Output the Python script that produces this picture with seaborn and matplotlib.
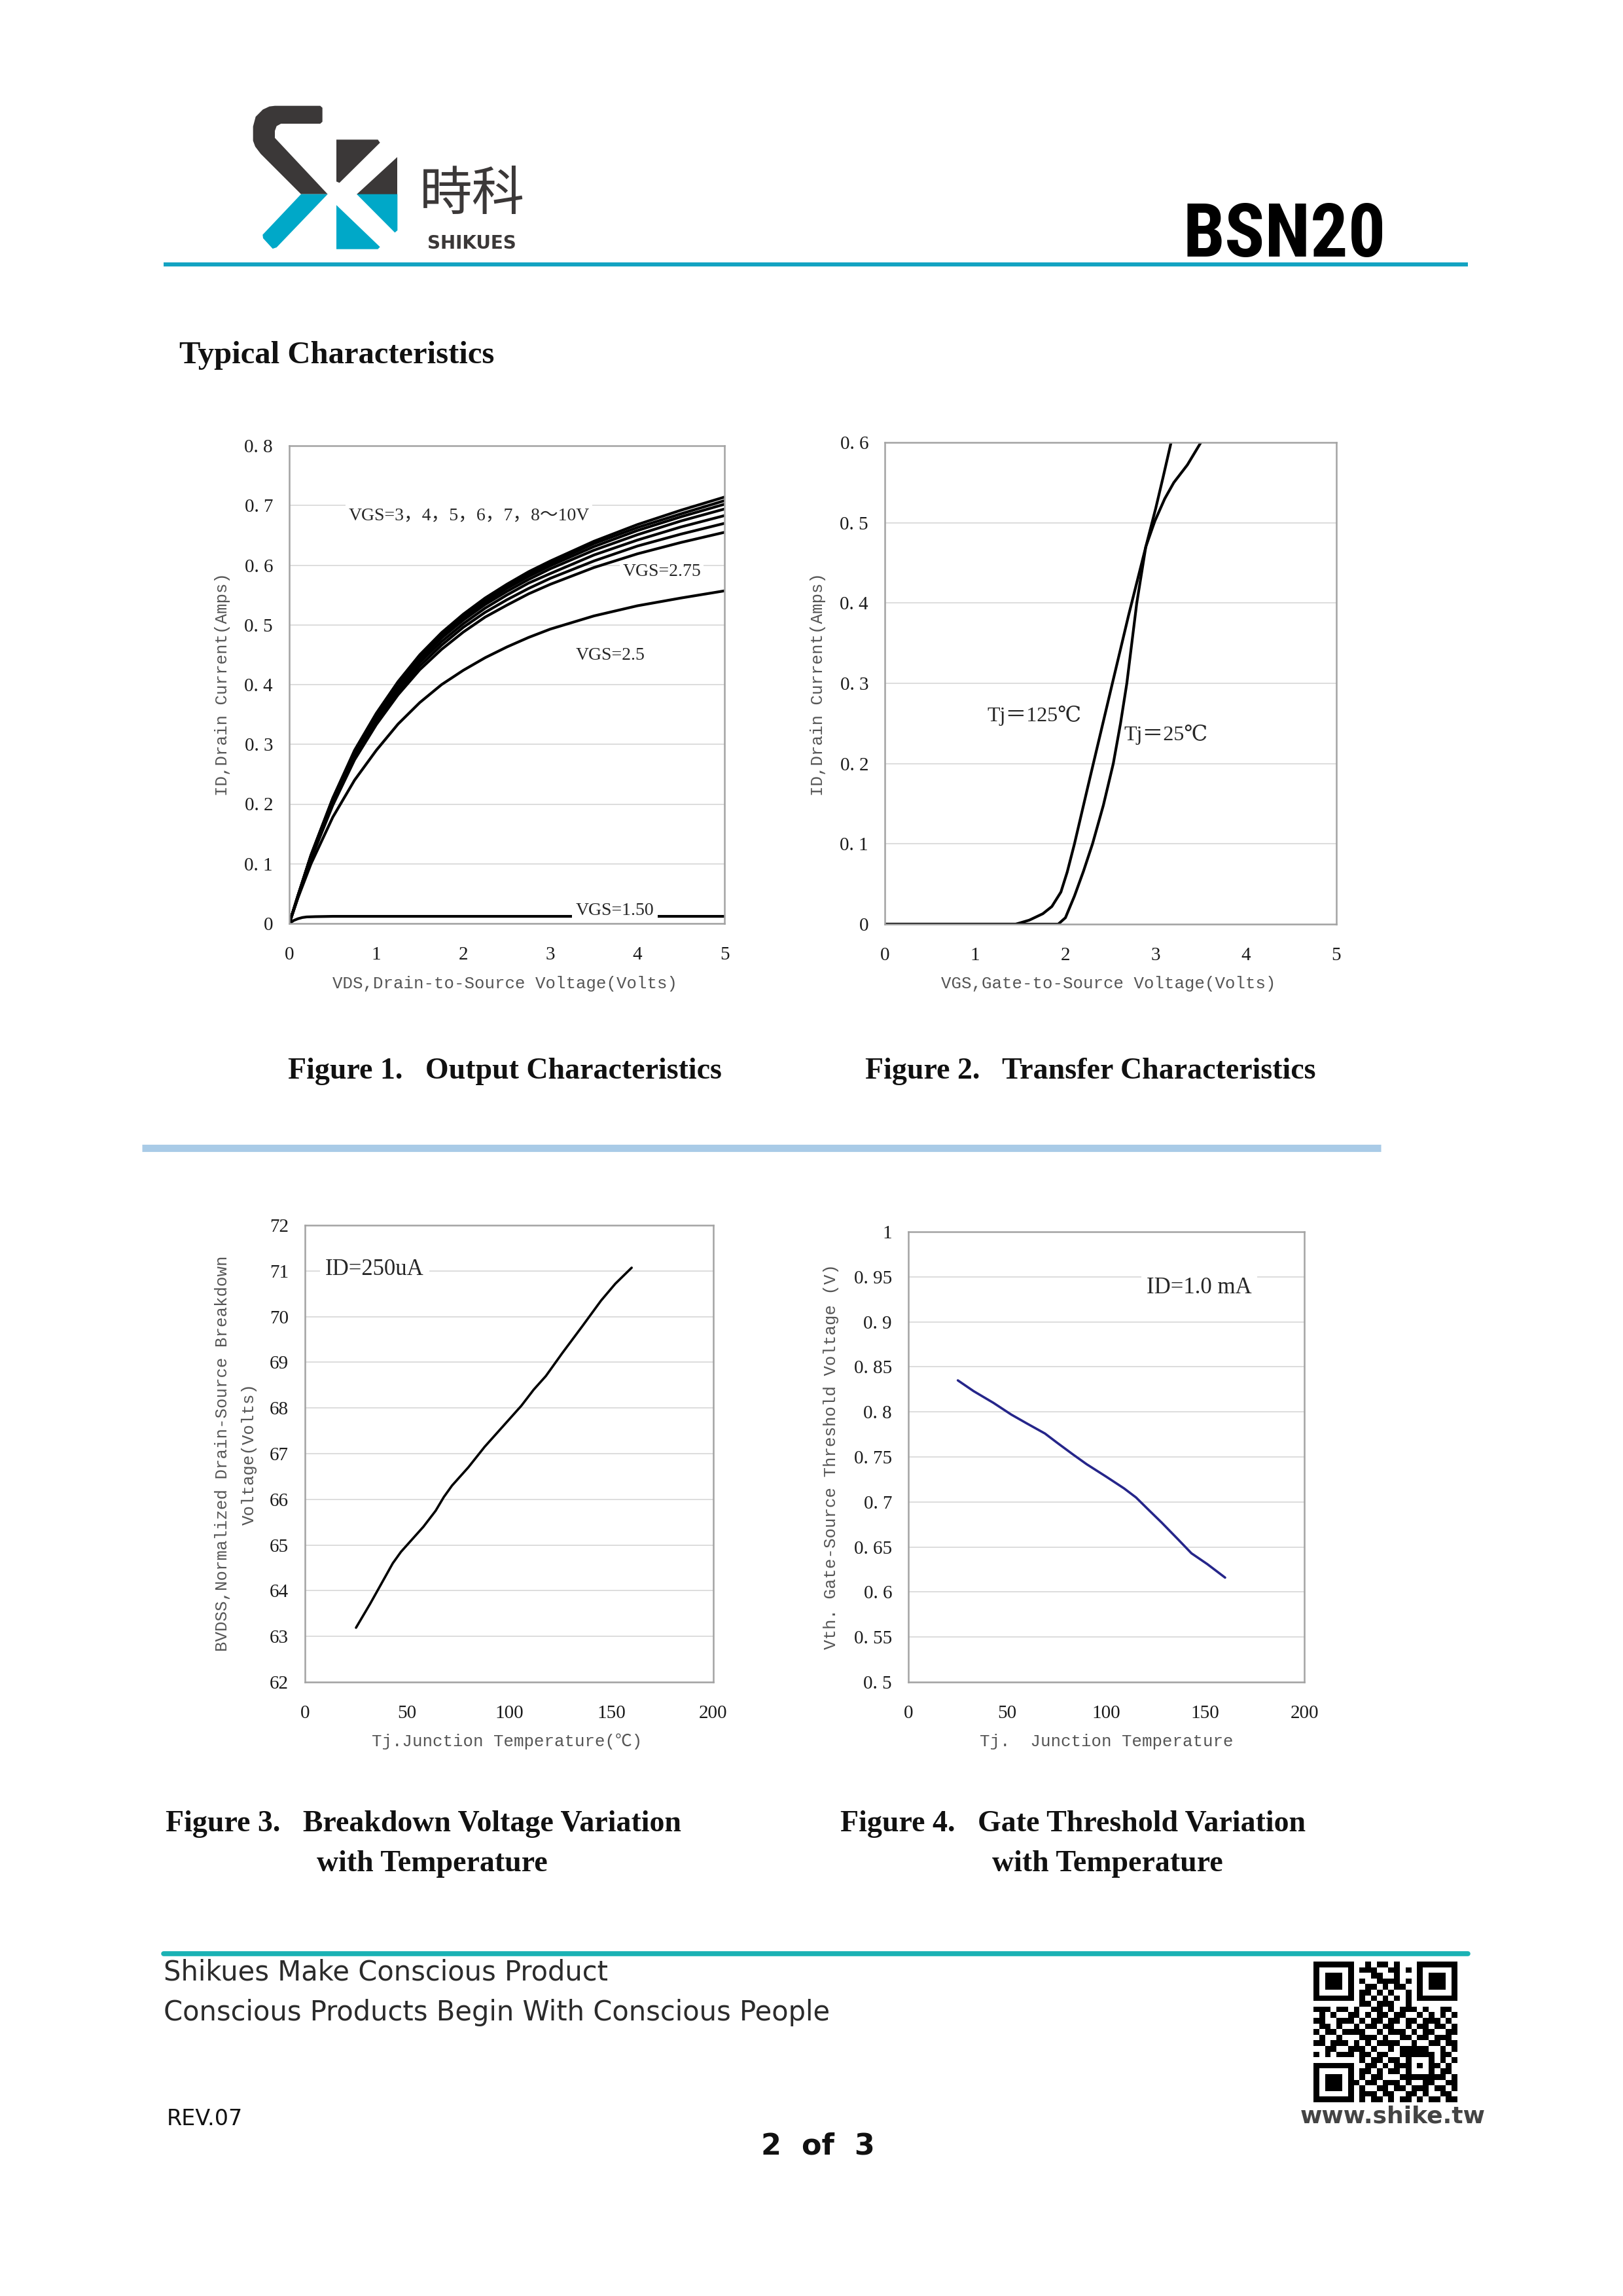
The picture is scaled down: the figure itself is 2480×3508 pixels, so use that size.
import numpy as np
import pandas as pd
import matplotlib
matplotlib.use("Agg")
import matplotlib.pyplot as plt
import seaborn as sns
from matplotlib.patches import Polygon
from matplotlib.lines import Line2D

# ---------------- data ----------------
# Figure 1 - output characteristics
vds = [0, 0.1, 0.25, 0.5, 0.75, 1.0, 1.25, 1.5, 1.75, 2.0, 2.25, 2.5, 2.75, 3.0, 3.5, 4.0, 4.5, 5.0]
id_vgs_8_10 = [0, 0.047, 0.115, 0.210, 0.290, 0.352, 0.405, 0.450, 0.487, 0.518, 0.545, 0.568, 0.589, 0.607, 0.640, 0.668, 0.692, 0.714]
id_vgs_7 = [0, 0.047, 0.114, 0.209, 0.288, 0.350, 0.403, 0.447, 0.484, 0.515, 0.542, 0.564, 0.585, 0.603, 0.636, 0.663, 0.686, 0.708]
id_vgs_6 = [0, 0.046, 0.114, 0.208, 0.287, 0.348, 0.400, 0.445, 0.481, 0.512, 0.538, 0.561, 0.581, 0.599, 0.631, 0.658, 0.681, 0.702]
id_vgs_5 = [0, 0.046, 0.113, 0.206, 0.285, 0.345, 0.397, 0.441, 0.478, 0.508, 0.534, 0.556, 0.576, 0.594, 0.625, 0.651, 0.674, 0.694]
id_vgs_4 = [0, 0.045, 0.111, 0.204, 0.282, 0.342, 0.393, 0.437, 0.472, 0.502, 0.528, 0.550, 0.570, 0.586, 0.617, 0.642, 0.664, 0.683]
id_vgs_3 = [0, 0.045, 0.110, 0.201, 0.278, 0.338, 0.388, 0.431, 0.466, 0.496, 0.521, 0.542, 0.561, 0.578, 0.607, 0.632, 0.652, 0.670]
id_vgs_275 = [0, 0.044, 0.108, 0.198, 0.274, 0.333, 0.383, 0.425, 0.459, 0.488, 0.513, 0.533, 0.552, 0.568, 0.596, 0.619, 0.638, 0.655]
id_vgs_25 = [0, 0.043, 0.100, 0.178, 0.240, 0.290, 0.334, 0.370, 0.400, 0.424, 0.445, 0.463, 0.479, 0.493, 0.515, 0.532, 0.545, 0.557]
vds_low = [0, 0.05, 0.1, 0.15, 0.2, 0.3, 0.5, 1.0, 2.0, 3.0, 4.0, 5.0]
id_vgs_150 = [0, 0.005, 0.008, 0.010, 0.011, 0.0115, 0.012, 0.012, 0.012, 0.012, 0.012, 0.012]
fig1_xticks = [0, 1, 2, 3, 4, 5]
fig1_xticklabels = ["0", "1", "2", "3", "4", "5"]
fig1_yticks = [0, 0.1, 0.2, 0.3, 0.4, 0.5, 0.6, 0.7, 0.8]
fig1_yticklabels = ["0", "0. 1", "0. 2", "0. 3", "0. 4", "0. 5", "0. 6", "0. 7", "0. 8"]

# Figure 2 - transfer characteristics
vgs_125 = [0, 1.45, 1.6, 1.75, 1.85, 1.95, 2.02, 2.10, 2.25, 2.52, 2.70, 2.89, 3.00, 3.08, 3.17]
id_125 = [0, 0, 0.005, 0.013, 0.022, 0.040, 0.065, 0.100, 0.172, 0.300, 0.385, 0.470, 0.518, 0.556, 0.600]
vgs_25 = [0, 1.92, 2.0, 2.1, 2.2, 2.3, 2.42, 2.53, 2.61, 2.68, 2.79, 2.89, 2.99, 3.1, 3.2, 3.35, 3.5]
id_25 = [0, 0, 0.008, 0.035, 0.066, 0.100, 0.148, 0.200, 0.250, 0.300, 0.400, 0.470, 0.502, 0.530, 0.550, 0.572, 0.600]
fig2_xticks = [0, 1, 2, 3, 4, 5]
fig2_xticklabels = ["0", "1", "2", "3", "4", "5"]
fig2_yticks = [0, 0.1, 0.2, 0.3, 0.4, 0.5, 0.6]
fig2_yticklabels = ["0", "0. 1", "0. 2", "0. 3", "0. 4", "0. 5", "0. 6"]

# Figure 3 - breakdown voltage vs temperature
tj3 = [25, 32, 38, 43, 47, 52, 58, 64, 68, 72, 80, 88, 97, 106, 112, 118, 126, 136, 145, 152, 160]
bv3 = [63.19, 63.72, 64.2, 64.6, 64.85, 65.1, 65.4, 65.75, 66.05, 66.3, 66.7, 67.15, 67.6,
       68.05, 68.4, 68.7, 69.2, 69.8, 70.35, 70.72, 71.07]
fig3_xticks = [0, 50, 100, 150, 200]
fig3_xticklabels = ["0", "50", "100", "150", "200"]
fig3_yticks = [62, 63, 64, 65, 66, 67, 68, 69, 70, 71, 72]
fig3_yticklabels = ["62", "63", "64", "65", "66", "67", "68", "69", "70", "71", "72"]

# Figure 4 - gate threshold vs temperature
tj4 = [25, 33, 43, 52, 60, 69, 75, 83, 90, 100, 109, 115, 121, 128, 136, 143, 151, 160]
vth4 = [0.835, 0.823, 0.810, 0.797, 0.787, 0.776, 0.766, 0.753, 0.742, 0.728, 0.715, 0.705,
        0.692, 0.677, 0.659, 0.643, 0.631, 0.616]
fig4_xticks = [0, 50, 100, 150, 200]
fig4_xticklabels = ["0", "50", "100", "150", "200"]
fig4_yticks = [0.5, 0.55, 0.6, 0.65, 0.7, 0.75, 0.8, 0.85, 0.9, 0.95, 1.0]
fig4_yticklabels = ["0. 5", "0. 55", "0. 6", "0. 65", "0. 7", "0. 75", "0. 8", "0. 85", "0. 9", "0. 95", "1"]

# QR-code module pattern (decorative, hand typed)
qr_rows = [
    "1111111001011010001111111",
    "1000001011100110101000001",
    "1011101000110010001011101",
    "1011101010011110101011101",
    "1011101001101011001011101",
    "1000001011010100101000001",
    "1111111010101010101111111",
    "0000000011011100100000000",
    "1110110100110101110100110",
    "0101001101011011001010101",
    "1100111010110110110111010",
    "0110100101101100101101101",
    "1011011110010111010110011",
    "0100100011101001101101110",
    "1101110101011110010011011",
    "0011001110100101111100101",
    "1010111011011001111110110",
    "0000000010110110100010101",
    "1111111001101011101011010",
    "1000001011010110100010110",
    "1011101010110001111111101",
    "1011101101101110100110011",
    "1011101010011011011101101",
    "1000001011101100110100110",
    "1111111010110101101011011",
]

# ---------------- figure ----------------
sns.set_theme(style="white")
plt.rcParams["font.family"] = ["DejaVu Sans", "Noto Sans CJK SC"]

W, H = 2480, 3508
fig = plt.figure(figsize=(W / 100, H / 100), dpi=100)
fig.patch.set_facecolor("white")

SERIF = ["Liberation Serif", "DejaVu Serif", "Noto Sans CJK SC"]
MONO = ["Liberation Mono", "DejaVu Sans Mono", "Noto Sans CJK SC"]


def fx(x):
    return x / W


def fy(y):
    return 1 - y / H


def px_axes(l, t, r, b):
    return fig.add_axes([l / W, 1 - b / H, (r - l) / W, (b - t) / H])


def ftext(x, y, s, **kw):
    return fig.text(fx(x), fy(y), s, **kw)


def hline(x0, x1, y, color, lw, cap="butt"):
    fig.add_artist(Line2D([fx(x0), fx(x1)], [fy(y), fy(y)], transform=fig.transFigure,
                          color=color, lw=lw, solid_capstyle=cap))


def style_axes(ax, xlim, ylim, xt, xtl, yt, ytl):
    ax.set_xlim(xlim)
    ax.set_ylim(ylim)
    ax.set_xticks(xt)
    ax.set_xticklabels(xtl)
    ax.set_yticks(yt)
    ax.set_yticklabels(ytl)
    ax.tick_params(length=0, labelsize=21, colors="#1a1a1a")
    ax.tick_params(axis="x", pad=25)
    ax.tick_params(axis="y", pad=18)
    for lab in ax.get_xticklabels() + ax.get_yticklabels():
        lab.set_fontfamily(SERIF)
    ax.grid(False)
    ax.yaxis.grid(True, color="#dadada", lw=1.3)
    ax.set_axisbelow(True)
    for sp in ax.spines.values():
        sp.set_visible(True)
        sp.set_color("#a3a3a3")
        sp.set_linewidth(1.8)
    ax.set_xlabel("")
    ax.set_ylabel("")
    ax.set_facecolor("white")


# ---------- header ----------
logo = px_axes(370, 140, 830, 400)
logo.set_xlim(0, 1380)
logo.set_ylim(780, 0)
logo.axis("off")
DARK = "#3b3838"
TEAL = "#00a8c8"
shapes = [
    ([(150, 65), (358, 65), (368, 74), (368, 138), (358, 147), (178, 147), (158, 158), (150, 180),
      (150, 212), (392, 470), (270, 470), (85, 285), (60, 252), (50, 225), (50, 160), (62, 115),
      (95, 82), (125, 68)], DARK),
    ([(270, 470), (392, 470), (158, 714), (140, 720), (96, 672), (94, 656)], TEAL),
    ([(432, 220), (622, 220), (632, 234), (446, 418), (432, 412)], DARK),
    ([(712, 300), (712, 470), (525, 470)], DARK),
    ([(525, 470), (712, 470), (712, 636), (700, 646)], TEAL),
    ([(432, 520), (632, 712), (622, 722), (432, 722)], TEAL),
]
for pts, col in shapes:
    logo.add_patch(Polygon(pts, closed=True, facecolor=col, edgecolor="none"))

ftext(721, 298, "時科", fontsize=58, family=["Noto Sans CJK SC"], color=DARK,
      ha="center", va="center")
ftext(721, 372, "SHIKUES", fontsize=20, fontweight="bold", color=DARK,
      ha="center", va="center", family=["DejaVu Sans"])
ftext(1963, 392, "BSN20", fontsize=82, fontweight="bold", color="black", ha="center",
      va="baseline", family=["Liberation Sans Narrow", "Roboto Condensed", "Liberation Sans", "DejaVu Sans"])
hline(250, 2243, 404, "#13a3c2", 4.5)

ftext(274, 555, "Typical Characteristics", fontsize=35, fontweight="bold", family=SERIF,
      color="#111111", ha="left", va="baseline")

# ---------- Figure 1 ----------
ax1 = px_axes(442, 681, 1107, 1411)
curves1 = [("8~10", id_vgs_8_10), ("7", id_vgs_7), ("6", id_vgs_6), ("5", id_vgs_5),
           ("4", id_vgs_4), ("3", id_vgs_3), ("2.75", id_vgs_275), ("2.5", id_vgs_25)]
df1 = pd.concat([pd.DataFrame({"vds": vds, "id": vals, "vgs": name}) for name, vals in curves1],
                ignore_index=True)
sns.lineplot(data=df1, x="vds", y="id", units="vgs", estimator=None, sort=False,
             color="black", lw=3.0, ax=ax1, legend=False)
sns.lineplot(x=vds_low, y=id_vgs_150, color="black", lw=3.0, ax=ax1, sort=False, estimator=None)
style_axes(ax1, (0, 5), (0, 0.8), fig1_xticks, fig1_xticklabels, fig1_yticks, fig1_yticklabels)
WB = dict(facecolor="white", edgecolor="none", pad=3)
ax1.text(0.68, 0.683, "VGS=3，4，5，6，7，8～10V", fontsize=20, family=SERIF, ha="left",
         va="center", bbox=WB, zorder=5)
ax1.text(3.83, 0.589, "VGS=2.75", fontsize=20, family=SERIF, ha="left", va="center",
         bbox=WB, zorder=5)
ax1.text(3.29, 0.449, "VGS=2.5", fontsize=20, family=SERIF, ha="left", va="center", zorder=5)
ax1.text(3.29, 0.021, "VGS=1.50", fontsize=20, family=SERIF, ha="left", va="center",
         bbox=dict(facecolor="white", edgecolor="none", pad=4), zorder=5)
ftext(771, 1503, "VDS,Drain-to-Source Voltage(Volts)", fontsize=18.5, family=MONO,
      color="#555555", ha="center", va="center")
ftext(340, 1046, "ID,Drain Current(Amps)", fontsize=18.5, family=MONO, color="#555555",
      ha="center", va="center", rotation=90)
ftext(440, 1648, "Figure 1.   Output Characteristics", fontsize=33, fontweight="bold",
      family=SERIF, ha="left", va="baseline", color="#111111")

# ---------- Figure 2 ----------
ax2 = px_axes(1352, 676, 2042, 1412)
df2 = pd.concat([pd.DataFrame({"vgs": vgs_125, "id": id_125, "tj": "125"}),
                 pd.DataFrame({"vgs": vgs_25, "id": id_25, "tj": "25"})], ignore_index=True)
sns.lineplot(data=df2, x="vgs", y="id", units="tj", estimator=None, sort=False,
             color="black", lw=3.0, ax=ax2, legend=False)
style_axes(ax2, (0, 5), (0, 0.6), fig2_xticks, fig2_xticklabels, fig2_yticks, fig2_yticklabels)
ax2.text(1.13, 0.26, "Tj＝125℃", fontsize=23, family=SERIF, ha="left", va="center")
ax2.text(2.65, 0.236, "Tj＝25℃", fontsize=23, family=SERIF, ha="left", va="center")
ftext(1694, 1503, "VGS,Gate-to-Source Voltage(Volts)", fontsize=18.5, family=MONO,
      color="#555555", ha="center", va="center")
ftext(1250, 1046, "ID,Drain Current(Amps)", fontsize=18.5, family=MONO, color="#555555",
      ha="center", va="center", rotation=90)
ftext(1322, 1648, "Figure 2.   Transfer Characteristics", fontsize=33, fontweight="bold",
      family=SERIF, ha="left", va="baseline", color="#111111")

# separator
hline(217, 2110, 1754, "#a9cbe7", 8)

# ---------- Figure 3 ----------
ax3 = px_axes(466, 1872, 1090, 2570)
sns.lineplot(x=tj3, y=bv3, color="black", lw=2.6, ax=ax3, sort=False, estimator=None)
style_axes(ax3, (0, 200), (62, 72), fig3_xticks, fig3_xticklabels, fig3_yticks, fig3_yticklabels)
ax3.text(10, 71.03, "ID=250uA", fontsize=25, family=SERIF, ha="left", va="center",
         bbox=dict(facecolor="white", edgecolor="none", pad=6), zorder=5)
ftext(775, 2661, "Tj.Junction Temperature(℃)", fontsize=18.5, family=MONO, color="#555555",
      ha="center", va="center")
ftext(340, 2221, "BVDSS,Normalized Drain-Source Breakdown", fontsize=18.5, family=MONO,
      color="#555555", ha="center", va="center", rotation=90)
ftext(381, 2221, "Voltage(Volts)", fontsize=18.5, family=MONO, color="#555555",
      ha="center", va="center", rotation=90)
ftext(253, 2798, "Figure 3.   Breakdown Voltage Variation", fontsize=33, fontweight="bold",
      family=SERIF, ha="left", va="baseline", color="#111111")
ftext(484, 2859, "with Temperature", fontsize=33, fontweight="bold",
      family=SERIF, ha="left", va="baseline", color="#111111")

# ---------- Figure 4 ----------
ax4 = px_axes(1388, 1882, 1993, 2570)
sns.lineplot(x=tj4, y=vth4, color="#25258a", lw=2.6, ax=ax4, sort=False, estimator=None)
style_axes(ax4, (0, 200), (0.5, 1.0), fig4_xticks, fig4_xticklabels, fig4_yticks, fig4_yticklabels)
ax4.text(120.3, 0.938, "ID=1.0 mA", fontsize=25, family=SERIF, ha="left", va="center",
         bbox=dict(facecolor="white", edgecolor="none", pad=6), zorder=5)
ftext(1691, 2661, "Tj.  Junction Temperature", fontsize=18.5, family=MONO, color="#555555",
      ha="center", va="center")
ftext(1270, 2226, "Vth. Gate-Source Threshold Voltage (V)", fontsize=18.5, family=MONO,
      color="#555555", ha="center", va="center", rotation=90)
ftext(1284, 2798, "Figure 4.   Gate Threshold Variation", fontsize=33, fontweight="bold",
      family=SERIF, ha="left", va="baseline", color="#111111")
ftext(1516, 2859, "with Temperature", fontsize=33, fontweight="bold",
      family=SERIF, ha="left", va="baseline", color="#111111")

# ---------- footer ----------
hline(250, 2243, 2985, "#1ab2b4", 5.5, cap="round")
ftext(250, 3026, "Shikues Make Conscious Product", fontsize=30, family=["DejaVu Sans"],
      color="#2b2b2b", ha="left", va="baseline")
ftext(250, 3087, "Conscious Products Begin With Conscious People", fontsize=30,
      family=["DejaVu Sans"], color="#2b2b2b", ha="left", va="baseline")
ftext(255, 3247, "REV.07", fontsize=24, family=["DejaVu Sans"], color="#111111",
      ha="left", va="baseline")
ftext(2128, 3244, "www.shike.tw", fontsize=26, fontweight="bold", family=["DejaVu Sans"],
      color="#444444", ha="center", va="baseline")
ftext(1250, 3292, "2  of  3", fontsize=32, fontweight="bold", family=["DejaVu Sans"],
      color="#111111", ha="center", va="baseline")

qr = np.array([[int(c) for c in row[:25].ljust(25, "0")] for row in qr_rows])
qax = px_axes(2007, 2997, 2227, 3212)
qax.imshow(qr, cmap="Greys", vmin=0, vmax=1, interpolation="nearest", aspect="auto")
qax.axis("off")

fig.savefig("out.png", dpi=100, facecolor="white")
